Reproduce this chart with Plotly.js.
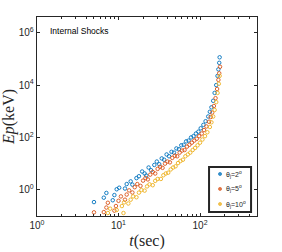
<!DOCTYPE html>
<html><head><meta charset="utf-8">
<script src="https://cdn.plot.ly/plotly-3.0.1.min.js"></script>
<style>html,body{margin:0;padding:0;background:#fff}#chart{width:282px;height:252px}</style>
</head><body><div id="chart"></div>
<script>
// theta_j = 2 deg
const tBlue = [5.0,6.6,7.1,8.5,8.9,9.5,10.2,12.0,12.6,14.1,14.8,16.6,17.8,19.5,20.9,21.9,23.4,25.1,27.5,29.5,31.6,33.9,36.3,38.9,41.7,44.7,47.9,51.3,55.0,58.9,63.1,67.6,72.4,77.6,83.2,89.1,95.5,102,110,117,126,132,138,145,151,158,164,168,172,174];
const epBlue = [0.34,0.50,0.76,0.40,0.63,1.05,1.2,1.12,1.66,2.1,1.58,2.8,3.3,5.0,4.2,3.5,7.1,5.6,8.9,12.0,9.5,15.8,14.1,22.4,19.1,28.2,26.3,38.0,35.5,50.1,52.5,70.8,75.9,100,112,141,166,224,302,417,631,955,1413,2512,5012,10000,22400,39800,70800,115000];
// theta_j = 5 deg
const tOrange = [5.0,6.6,7.1,7.4,8.9,9.3,10.0,10.7,12.0,12.6,13.5,14.8,15.8,17.0,18.6,20.0,21.4,22.9,24.5,26.3,28.2,30.2,32.4,34.7,37.2,39.8,42.7,45.7,49.0,52.5,56.2,60.3,64.6,69.2,74.1,79.4,85.1,91.2,97.7,105,112,120,129,135,141,148,155,162,168,172,176];
const epOrange = [0.138,0.141,0.21,0.32,0.16,0.24,0.38,0.56,0.42,0.66,0.95,0.79,1.26,1.66,1.41,2.24,2.8,2.5,3.8,4.8,4.2,6.3,7.6,6.9,10,12.0,11.2,16.6,20,19.1,26.3,31.6,33.1,44.7,52.5,63.1,75.9,89.1,112,141,191,263,398,603,891,1585,3162,7079,15800,28200,50000];
// theta_j = 10 deg
const tYellow = [7.4,7.9,9.5,11.5,11.0,11.7,13.2,14.1,15.1,16.6,17.8,19.1,20.9,22.4,24.0,26.3,28.2,30.2,33.1,35.5,38.0,40.7,43.7,46.8,50.1,53.7,57.5,61.7,66.1,70.8,75.9,81.3,87.1,93.3,100,107,115,123,132,138,145,151,158,164,170,174];
const epYellow = [0.13,0.19,0.17,0.13,0.24,0.33,0.30,0.42,0.56,0.52,0.78,0.98,0.93,1.35,1.62,1.5,2.2,2.6,2.6,3.6,4.2,4.5,6.0,7.1,7.9,10.5,12.6,14.1,19.1,22.4,26.3,33.1,39.8,50.1,63.1,83.2,112,158,251,380,631,1122,2239,5012,11200,22400];
const seriesNames = ['\u03b8<sub>j</sub>=2<sup>o</sup>','\u03b8<sub>j</sub>=5<sup>o</sup>','\u03b8<sub>j</sub>=10<sup>o</sup>'];
const colors = ['#0072BD','#D95319','#EDB120'];
const xTickVals = [1,10,100];
const xTickText = ['10<sup>0</sup>','10<sup>1</sup>','10<sup>2</sup>'];
const yTickVals = [1,100,10000,1000000];
const yTickText = ['10<sup>0</sup>','10<sup>2</sup>','10<sup>4</sup>','10<sup>6</sup>'];

const xs=[tBlue,tOrange,tYellow], ys=[epBlue,epOrange,epYellow];
const traces = xs.map((x,i)=>({x:x,y:ys[i],type:'scatter',mode:'markers',name:seriesNames[i],
  marker:{symbol:'circle-open',size:3.5,color:colors[i],line:{width:0.9,color:colors[i]}},cliponaxis:true}));

// custom compact legend (box, swatches, labels) in paper coordinates
const legBox = {x0:0.782,x1:0.973,y0:0.02,y1:0.246};
const legRows = [0.211,0.136,0.060];
const shapes = [{type:'rect',xref:'paper',yref:'paper',x0:legBox.x0,x1:legBox.x1,y0:legBox.y0,y1:legBox.y1,
  line:{color:'#262626',width:2},fillcolor:'#fff',layer:'above'}];
const annotations = [{text:'Internal Shocks',xref:'paper',yref:'paper',x:0.05,y:0.93,xanchor:'left',yanchor:'middle',showarrow:false,
    font:{family:'Liberation Sans, Arial',size:8.5,color:'#000'}}];
legRows.forEach((ry,i)=>{
  shapes.push({type:'circle',xref:'paper',yref:'paper',x0:0.832-0.007,x1:0.832+0.007,y0:ry-0.0075,y1:ry+0.0075,
    line:{color:colors[i],width:0.9},fillcolor:colors[i],opacity:0.8,layer:'above'});
  annotations.push({text:seriesNames[i],xref:'paper',yref:'paper',x:0.852,y:ry,xanchor:'left',yanchor:'middle',showarrow:false,
    font:{family:'Liberation Sans, Arial',size:7,color:'#262626'}});
});

const axCommon = {type:'log',showgrid:false,zeroline:false,showline:true,linecolor:'#262626',linewidth:1.3,
  mirror:'ticks',ticks:'inside',ticklen:3,tickcolor:'#262626',tickfont:{family:'Liberation Sans, Arial',size:10,color:'#262626'}};
const layout = {
  width:282,height:252,margin:{l:37,r:25,t:17,b:36},paper_bgcolor:'#fff',plot_bgcolor:'#fff',
  showlegend:false,
  xaxis:Object.assign({},axCommon,{range:[0,Math.log10(500)],tickmode:'array',tickvals:xTickVals,ticktext:xTickText,
    minor:{ticks:'inside',ticklen:2,tickcolor:'#262626',tickvals:[2,3,4,5,6,7,8,9,20,30,40,50,60,70,80,90,200,300,400]},
    title:{text:'<i>t</i>(sec)',font:{family:'Liberation Serif, DejaVu Serif',size:16,color:'#262626'},standoff:4}}),
  yaxis:Object.assign({},axCommon,{range:[-1,6.6],tickmode:'array',tickvals:yTickVals,ticktext:yTickText,
    title:{text:'<i>Ep</i>(keV)',font:{family:'Liberation Serif, DejaVu Serif',size:16,color:'#262626'},standoff:5}}),
  shapes:shapes,
  annotations:annotations
};
Plotly.newPlot('chart',traces,layout,{staticPlot:true,displayModeBar:false});
</script></body></html>
